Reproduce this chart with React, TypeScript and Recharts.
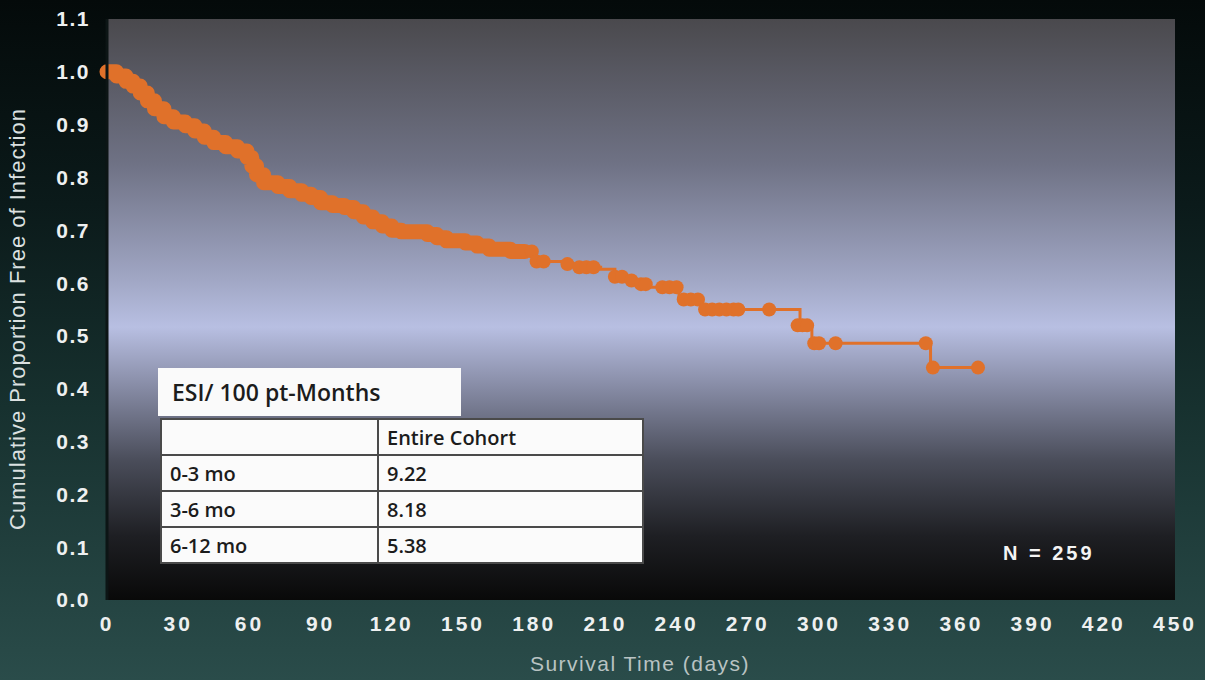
import { ComposedChart, Line, Scatter, XAxis, YAxis, ReferenceArea } from 'recharts'

const ORANGE = '#e0712a'

// dense early part of the Kaplan-Meier curve (censor marks overlap into a thick band)
const denseDays = [0, 4, 8, 11, 14, 17, 20, 24, 28, 33, 37, 41, 45, 50, 55, 59, 61, 63, 66, 72, 77, 82, 86, 90, 95, 100, 104, 108, 112, 116, 120, 124, 135, 139, 143, 151, 156, 161, 170, 176]
const denseSurv = [1.0, 0.992, 0.982, 0.973, 0.96, 0.945, 0.93, 0.915, 0.905, 0.898, 0.888, 0.876, 0.866, 0.858, 0.85, 0.838, 0.822, 0.805, 0.79, 0.783, 0.775, 0.768, 0.762, 0.752, 0.747, 0.743, 0.735, 0.725, 0.716, 0.708, 0.7, 0.697, 0.692, 0.686, 0.68, 0.676, 0.67, 0.664, 0.66, 0.66]

// later steps, thin line
const tailDays = [180, 193, 198, 208, 214, 219, 225, 229, 241, 251, 292, 297, 347, 367]
const tailSurv = [0.641, 0.636, 0.63, 0.626, 0.612, 0.605, 0.598, 0.592, 0.569, 0.55, 0.52, 0.486, 0.44, 0.44]

// censored observations
const censorDays = [179, 181, 184, 194, 199, 202, 205, 214, 217, 221, 225, 227, 234, 237, 240, 243, 246, 249, 252, 255, 258, 261, 264, 266, 279, 291, 293, 295, 298, 300, 307, 345, 348, 367]
const censorSurv = [0.66, 0.641, 0.641, 0.636, 0.63, 0.63, 0.63, 0.612, 0.612, 0.605, 0.598, 0.598, 0.592, 0.592, 0.592, 0.569, 0.569, 0.569, 0.55, 0.55, 0.55, 0.55, 0.55, 0.55, 0.55, 0.52, 0.52, 0.52, 0.486, 0.486, 0.486, 0.486, 0.44, 0.44]

const xTicks = [0, 30, 60, 90, 120, 150, 180, 210, 240, 270, 300, 330, 360, 390, 420, 450]
const yTicks = [0, 0.1, 0.2, 0.3, 0.4, 0.5, 0.6, 0.7, 0.8, 0.9, 1.0, 1.1]

const tableRows = ['0-3 mo', '3-6 mo', '6-12 mo']
const tableValues = ['9.22', '8.18', '5.38']

const dense = denseDays.map((t, i) => ({ t, s: denseSurv[i] }))
const curve = [...dense, ...tailDays.map((t, i) => ({ t, s: tailSurv[i] }))]
const censor = censorDays.map((t, i) => ({ t, s: censorSurv[i] }))

const font = "'Liberation Sans', Arial, sans-serif"

const yTickStyle = {
  fill: '#eef0f0',
  fontSize: 21,
  fontWeight: 700,
  fontFamily: font,
  letterSpacing: 1.5,
}
const xTickStyle = { ...yTickStyle, letterSpacing: 3 }

const cellStyle = {
  border: '2px solid #4a4a4a',
  padding: '0 8px',
  height: 34,
  textAlign: 'left' as const,
}

export default function App() {
  return (
    <div
      style={{
        position: 'absolute',
        left: 0,
        top: 0,
        width: 1205,
        height: 680,
        overflow: 'hidden',
        background: 'linear-gradient(to bottom, #040a0a 0%, #0b1a1a 30%, #17312f 60%, #2a4c4a 100%)',
      }}
    >
      <ComposedChart width={1205} height={680} margin={{ top: 19, right: 30, bottom: 50, left: 0 }}>
        <defs>
          <linearGradient id='plotBg' x1='0' y1='0' x2='0' y2='1'>
            <stop offset='0%' stopColor='#4a494d' />
            <stop offset='25%' stopColor='#6f7285' />
            <stop offset='45%' stopColor='#a1a7c5' />
            <stop offset='53%' stopColor='#b8bfe2' />
            <stop offset='62%' stopColor='#8d92ad' />
            <stop offset='76%' stopColor='#4a4d5a' />
            <stop offset='89%' stopColor='#1e1f23' />
            <stop offset='100%' stopColor='#090909' />
          </linearGradient>
        </defs>
        <XAxis
          type='number'
          dataKey='t'
          domain={[0, 450]}
          ticks={xTicks}
          height={30}
          axisLine={false}
          tickLine={false}
          tickMargin={10}
          tick={xTickStyle}
          interval={0}
        />
        <YAxis
          type='number'
          dataKey='s'
          domain={[0, 1.1]}
          ticks={yTicks}
          width={107}
          axisLine={{ stroke: '#0c1515', strokeWidth: 3 }}
          tickLine={false}
          tickMargin={11}
          tick={yTickStyle}
          tickFormatter={(v: number) => v.toFixed(1)}
          interval={0}
        />
        <ReferenceArea x1={0} x2={450} y1={0} y2={1.1} fill='url(#plotBg)' fillOpacity={1} stroke='none' />
        <Line
          data={curve}
          dataKey='s'
          type='stepAfter'
          stroke={ORANGE}
          strokeWidth={3}
          dot={false}
          isAnimationActive={false}
        />
        <Line
          data={dense}
          dataKey='s'
          type='stepAfter'
          stroke={ORANGE}
          strokeWidth={15}
          strokeLinejoin='round'
          strokeLinecap='round'
          dot={false}
          isAnimationActive={false}
        />
        <Scatter
          data={censor}
          dataKey='s'
          fill={ORANGE}
          isAnimationActive={false}
          shape={(p: any) => <circle cx={p.cx} cy={p.cy} r={7} fill={ORANGE} />}
        />
      </ComposedChart>

      {/* y axis title */}
      <div
        style={{
          position: 'absolute',
          left: 18 - 250,
          top: 319 - 13,
          width: 500,
          height: 26,
          lineHeight: '26px',
          textAlign: 'center',
          transform: 'rotate(-90deg)',
          color: '#dce1e1',
          fontSize: 22,
          letterSpacing: 1,
          fontFamily: font,
        }}
      >
        Cumulative Proportion Free of Infection
      </div>

      {/* x axis title */}
      <div
        style={{
          position: 'absolute',
          left: 440,
          top: 652,
          width: 400,
          textAlign: 'center',
          color: '#b9c3c3',
          fontSize: 21,
          letterSpacing: 1.5,
          fontFamily: font,
        }}
      >
        Survival Time (days)
      </div>

      <div
        style={{
          position: 'absolute',
          left: 1003,
          top: 542,
          color: '#f4f4f4',
          fontSize: 20,
          fontWeight: 700,
          letterSpacing: 3,
          fontFamily: font,
        }}
      >
        N = 259
      </div>

      {/* inset table */}
      <div
        style={{
          position: 'absolute',
          left: 158,
          top: 368,
          width: 289,
          height: 48,
          lineHeight: '48px',
          paddingLeft: 14,
          background: '#fafafa',
          color: '#1c1c1c',
          fontSize: 23,
          fontWeight: 600,
          fontFamily: "'Open Sans', sans-serif",
        }}
      >
        ESI/ 100 pt-Months
      </div>
      <table
        style={{
          position: 'absolute',
          left: 160,
          top: 418,
          width: 484,
          borderCollapse: 'collapse',
          background: '#fbfbfb',
          color: '#1c1c1c',
          fontSize: 20,
          fontWeight: 600,
          fontFamily: "'Open Sans', sans-serif",
        }}
      >
        <tbody>
          <tr>
            <td style={{ ...cellStyle, width: 199 }}></td>
            <td style={cellStyle}>Entire Cohort</td>
          </tr>
          {tableRows.map((r, i) => (
            <tr key={r}>
              <td style={cellStyle}>{r}</td>
              <td style={cellStyle}>{tableValues[i]}</td>
            </tr>
          ))}
        </tbody>
      </table>
    </div>
  )
}
